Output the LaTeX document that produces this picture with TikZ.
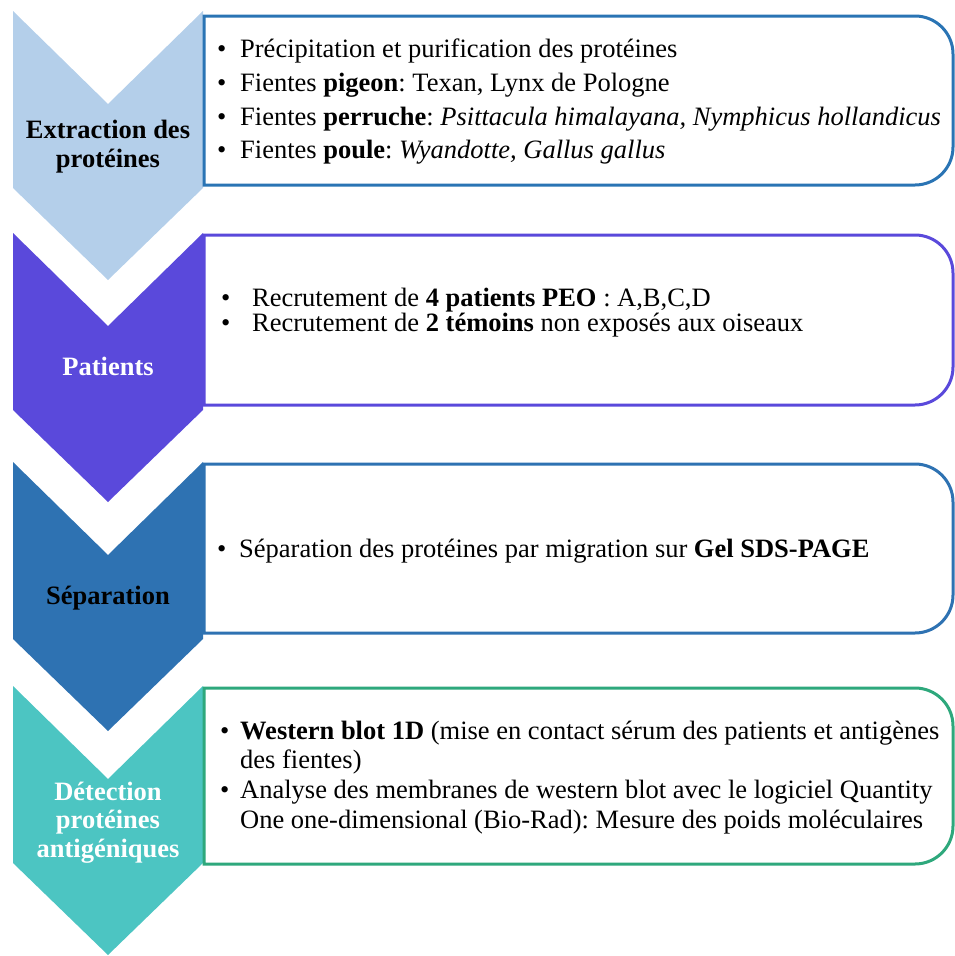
\documentclass[tikz,border=0pt]{standalone}
\usepackage{fontspec}
\setmainfont{Liberation Serif}
\usepackage{xcolor}
\frenchspacing
\definecolor{extr}{HTML}{B4CFEA}
\definecolor{extrline}{HTML}{2A74B4}
\definecolor{pat}{HTML}{5A49DB}
\definecolor{sep}{HTML}{2E72B2}
\definecolor{det}{HTML}{4CC5C2}
\definecolor{detline}{HTML}{2EA87C}
% chevron: top y, colour
\newcommand{\chev}[2]{\fill[#2] (13,#1) -- (108,#1+93) -- (203,#1) -- (203,#1+177)
  -- (108,#1+269) -- (13,#1+177) -- cycle;}
% panel with round right corners: top y, bottom y, colour
\newcommand{\panel}[3]{\filldraw[panelbox,draw=#3] (204,#1) -- (915,#1)
  .. controls (936,#1) and (953,#1+17) .. (953,#1+38) -- (953,#2-38)
  .. controls (953,#2-17) and (936,#2) .. (915,#2) -- (204,#2) -- cycle;}
\newcommand{\bul}[1][23pt]{\makebox[#1][l]{\textbullet}}

\begin{document}
\begin{tikzpicture}[x=1pt,y=-1pt,
  panelbox/.style={fill=white,line width=3pt},
  lbl/.style={align=center,inner sep=0pt,font=\fontsize{26.5}{28.5}\selectfont\bfseries},
  txt/.style={align=left,inner sep=0pt,anchor=north west}]
  \useasboundingbox (0,0) rectangle (955,956);
  % chevrons
  \chev{11}{extr}
  \chev{233}{pat}
  \chev{462}{sep}
  \chev{686}{det}
  % panels
  \panel{16}{185}{extrline}
  \panel{235}{405}{pat}
  \panel{464}{633}{sep}
  \panel{688}{864}{detline}
  % chevron labels
  \node[lbl,anchor=north] (l1) at (108,120) {Extraction des\\protéines};
  \node[lbl,anchor=base,text=white] (l2) at (108,375) {Patients};
  \node[lbl,anchor=base] (l3) at (108,604) {Séparation};
  \node[lbl,anchor=north,text=white] (l4) at (108,781.5) {Détection\\protéines\\antigéniques};
  % panel texts
  \node[txt,font=\fontsize{26.5}{33.7}\selectfont] (t1) at (217,39)
    {\bul Précipitation et purification des protéines\\
     \bul Fientes \textbf{pigeon}: Texan, Lynx de Pologne\\
     \bul Fientes \textbf{perruche}: \textit{Psittacula himalayana, Nymphicus hollandicus}\\
     \bul Fientes \textbf{poule}: \textit{Wyandotte, Gallus gallus}};
  \node[txt,font=\fontsize{26.5}{24.5}\selectfont] (t2) at (221,288)
    {\bul[31pt]Recrutement de \textbf{4 patients PEO} : A,B,C,D\\
     \bul[31pt]Recrutement de \textbf{2 témoins} non exposés aux oiseaux};
  \node[txt,font=\fontsize{26.5}{30}\selectfont] (t3) at (217,538.7)
    {\bul[22pt]Séparation des protéines par migration sur \textbf{Gel SDS-PAGE}};
  \node[txt,font=\fontsize{26.5}{29.7}\selectfont] (t4) at (220,720.6)
    {\bul[20pt]\textbf{Western blot 1D} (mise en contact sérum des patients et antigènes\\
     \hspace*{20pt}des fientes)\\
     \bul[20pt]Analyse des membranes de western blot avec le logiciel Quantity\\
     \hspace*{20pt}One one-dimensional (Bio-Rad): Mesure des poids moléculaires};
\end{tikzpicture}
\end{document}
